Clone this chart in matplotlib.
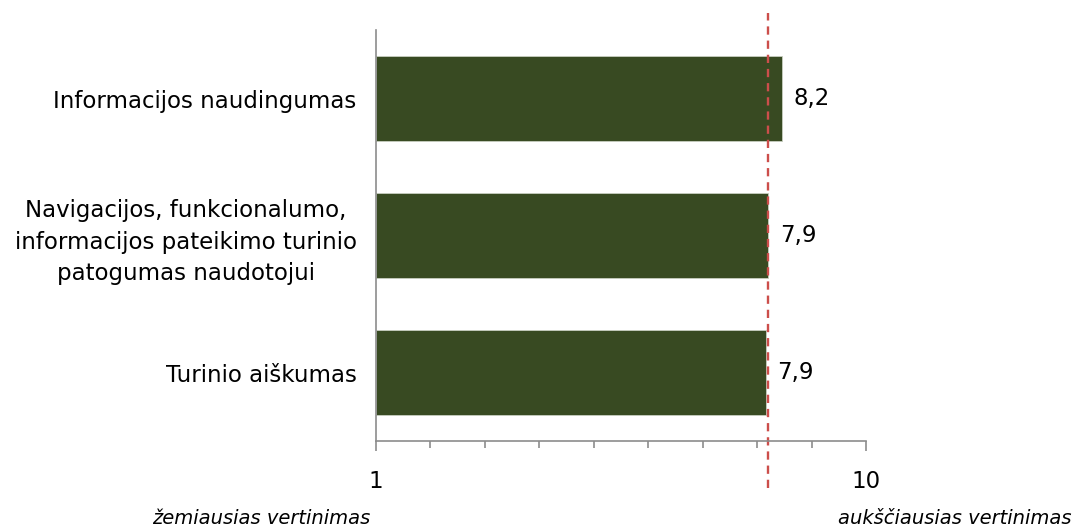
import matplotlib.pyplot as plt
import numpy as np

categories = ['Informacijos naudingumas',
              'Navigacijos, funkcionalumo,\ninformacijos pateikimo turinio\npatogumas naudotojui',
              'Turinio aiškumas']
values = [8.2, 7.93, 7.87]
value_labels = ['8,2', '7,9', '7,9']
average = 7.93
scale_labels = ['1', '10']

plt.rcParams['font.family'] = ['DejaVu Sans']

fig = plt.figure(figsize=(10.72, 5.30), dpi=100)
ax = fig.add_axes([376 / 1072, 89 / 530, 490 / 1072, 411 / 530])

y = np.arange(len(categories))
ax.barh(y, values, height=0.62, color='#384A22', edgecolor='#c8cfc0', linewidth=0.6)
for yi, v, lab in zip(y, values, value_labels):
    ax.text(v + 0.24, yi, lab, va='center', ha='left', fontsize=16.5)

ax.set_ylim(2.5, -0.5)
ax.set_xlim(0, 9.9)
ax.set_yticks(y)
ax.set_yticklabels(categories, fontsize=16.5, multialignment='center', linespacing=1.45)
ax.tick_params(axis='y', length=0, pad=14)

ax.set_xticks([0, 9.9])
ax.set_xticklabels(scale_labels, fontsize=16.5)
ax.set_xticks(np.linspace(0, 9.9, 10), minor=True)
ax.tick_params(axis='x', which='both', direction='out', length=7, width=1.2,
               color='#8c8c8c', pad=14)
ax.tick_params(axis='x', which='minor', length=5)

for s in ['top', 'right']:
    ax.spines[s].set_visible(False)
for s in ['left', 'bottom']:
    ax.spines[s].set_color('#8c8c8c')
    ax.spines[s].set_linewidth(1.2)

# vidurkio linija
ax.axvline(average, ymin=-0.114, ymax=1.041, color='#CC4E4B', linestyle=(0, (3.5, 2.5)),
           linewidth=1.7, clip_on=False)

fig.text(152 / 1072, 1 - 519 / 530, 'žemiausias vertinimas', style='italic',
         fontsize=14, va='center', ha='left')
fig.text(1071 / 1072, 1 - 519 / 530, 'aukščiausias vertinimas', style='italic',
         fontsize=14, va='center', ha='right')

fig.savefig('out.png', dpi=100)
